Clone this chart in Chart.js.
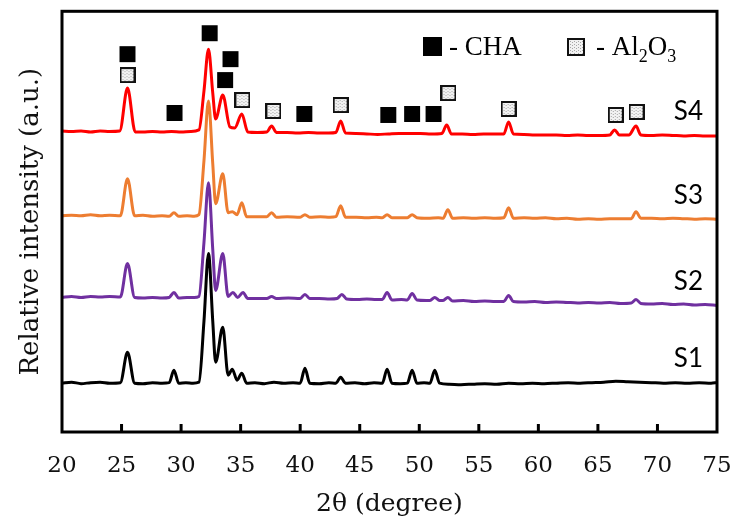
<!DOCTYPE html>
<html>
<head>
<meta charset="utf-8">
<script src="https://cdn.jsdelivr.net/npm/chart.js@4.4.1/dist/chart.umd.min.js"></script>
<style>
  html, body { margin: 0; padding: 0; background: #fff; }
  #wrap { width: 732px; height: 527px; }
</style>
</head>
<body>
<div id="wrap"><canvas id="xrd"></canvas></div>
<script>
// x axis (2 theta) tick labels
var xTicks = [20, 25, 30, 35, 40, 45, 50, 55, 60, 65, 70, 75];

var sampleNames = ['S1', 'S2', 'S3', 'S4'];
var sampleColors = ['#000000', '#7030a0', '#ed7d31', '#ff0000'];
// vertical shift of each pattern (a.u.)
var sampleOffsets = [49, 135, 217, 302];

// [2theta, intensity]
var s1 = [[20,0],[20.8,1],[21.6,-0.5],[22.4,0.5],[23.2,1],[24,0],[24.9,0.5],[25.5,31],[26.1,0],[26.8,-0.5],[27.6,0.5],[28.4,0],[29,0.5],[29.4,13],[29.8,0],[30.4,0.5],[31,0],[31.5,1],[31.92,62],[32.3,130],[32.66,62],[32.9,21],[33.5,56],[33.95,8],[34.3,14],[34.7,3],[35.1,10],[35.5,0],[36.2,0.5],[37,-0.5],[37.8,1],[38.6,0],[39.4,0.5],[40,0],[40.4,15],[40.8,0],[41.6,-0.5],[42.4,0.5],[43,0],[43.4,6],[43.8,0],[44.6,0.5],[45.4,-0.5],[46.2,0.5],[46.9,0],[47.3,14],[47.7,0],[48.4,-0.5],[49,0],[49.4,13],[49.8,0],[50.4,0.5],[50.9,0],[51.3,13],[51.7,0],[52.5,-1],[53.5,-1.5],[54.5,-1],[55.5,-0.5],[56.5,-1],[57.5,0],[58.5,-0.5],[59.5,0],[60.5,-0.5],[61.5,0],[62.5,0.5],[63.5,0],[64.5,0.5],[65.5,1],[66.5,2],[67.5,1.5],[68.5,1],[69.5,0.5],[70.5,0],[71.5,0.5],[72.5,0],[73.5,0.5],[74.5,0],[75,0.5]];
var s2 = [[20,0],[20.8,1],[21.6,0],[22.4,1],[23.2,0.5],[24,1],[24.9,0.5],[25.5,34],[26.1,0],[26.8,-0.5],[27.6,0],[28.4,-0.5],[29,0],[29.4,5],[29.8,-0.5],[30.5,0],[31.1,0],[31.5,1],[31.92,55],[32.3,115],[32.66,48],[32.9,7],[33.5,44],[33.95,1],[34.35,5],[34.75,0],[35.2,5],[35.6,-1],[36.5,-1],[37.2,-1],[37.6,1],[38,-1],[39,-0.5],[40,-1],[40.4,3],[40.8,-1],[41.6,-1],[42.5,-1.5],[43.1,-1],[43.5,3],[43.9,-1.5],[44.8,-2],[45.6,-1.5],[46.4,-2],[46.9,-2],[47.3,5],[47.7,-2.5],[48.5,-2],[49,-2.5],[49.4,4],[49.8,-2.5],[50.6,-3],[50.9,-3],[51.3,0],[51.7,-3],[52,-3],[52.4,0],[52.8,-3.5],[53.7,-3],[54.6,-4],[55.5,-3.5],[56.4,-4],[57.1,-4],[57.5,2],[57.9,-4],[58.8,-4.5],[59.7,-4],[60.6,-5],[61.5,-4.5],[62.4,-5],[63.3,-5.5],[64.2,-5],[65.1,-5.5],[66,-5],[66.9,-6],[67.8,-5.5],[68.2,-2],[68.6,-6],[69.5,-6.5],[70.4,-6],[71.3,-7],[72.2,-6.5],[73.1,-7.5],[74,-7],[75,-8]];
var s3 = [[20,0],[20.8,0.5],[21.6,0],[22.4,1],[23.2,0],[24,0.5],[24.9,0],[25.5,37],[26.1,0],[26.8,0.5],[27.6,-0.5],[28.4,0],[29,-0.5],[29.4,3],[29.8,-0.5],[30.5,0],[31.1,-0.5],[31.5,1],[31.92,55],[32.3,115],[32.66,52],[32.9,12],[33.5,42],[33.95,3],[34.3,4],[34.7,1],[35.1,13],[35.5,-1],[36.3,-1],[37.2,-1],[37.6,3],[38,-1.5],[38.9,-1],[40,-1.5],[40.4,1],[40.8,-1.5],[41.7,-1],[42.5,-1.5],[43,-1],[43.4,10],[43.8,-1.5],[44.7,-1.5],[45.6,-2],[46.4,-1.5],[46.9,-2],[47.3,1],[47.7,-2],[48.5,-2],[49,-2],[49.4,1],[49.8,-2],[50.7,-2.5],[51.6,-2],[52,-2.5],[52.4,6],[52.8,-2.5],[53.7,-2],[54.6,-2.5],[55.5,-2],[56.4,-2.5],[57.1,-2],[57.5,8],[57.9,-2.5],[58.8,-2],[59.7,-2.5],[60.6,-2],[61.5,-3],[62.4,-2.5],[63.3,-3.5],[64.2,-3],[65.1,-3.5],[66,-3],[66.9,-3],[67.8,-3],[68.2,4],[68.6,-2.5],[69.5,-2.5],[70.4,-3],[71.3,-2.5],[72.2,-3],[73.1,-3.5],[74,-3],[75,-3.5]];
var s4 = [[20,0],[20.8,-0.5],[21.6,0],[22.4,-1],[23.2,0],[24,-0.5],[24.85,0],[25.5,43],[26.15,-1],[26.8,-1],[27.6,-0.5],[28.4,-1],[29.2,-0.5],[30,-1],[30.8,-0.5],[31.5,1],[31.92,40],[32.3,82],[32.66,38],[32.9,12],[33.5,36],[34.1,4],[34.5,3],[35.1,17],[35.6,-1],[36.4,-1.5],[37.2,-1],[37.6,5],[38,-1.5],[38.9,-1.5],[39.8,-2],[40.7,-1.5],[41.6,-2],[42.4,-2],[43,-1.5],[43.4,10],[43.8,-2],[44.7,-2.5],[45.6,-3],[46.5,-3.5],[47.4,-3],[48.3,-2.5],[49.2,-2.5],[50.1,-2.5],[51,-3],[51.9,-2.5],[52.3,6],[52.7,-3],[53.6,-3],[54.5,-3.5],[55.4,-3],[56.3,-3],[57.1,-3],[57.5,9],[57.9,-3],[58.8,-3.5],[59.7,-4],[60.6,-4],[61.5,-4],[62.4,-4.5],[63.3,-4],[64.2,-4.5],[65.1,-4.5],[66,-4],[66.4,1],[66.8,-4],[67.6,-4],[68.2,5],[68.6,-4],[69.5,-4.5],[70.4,-4],[71.3,-4.5],[72.2,-5],[73.1,-4.5],[74,-5],[75,-5]];
var patterns = [s1, s2, s3, s4];

// phase markers [2theta, height]
var chaMarks = [[25.5,379],[32.4,400],[34.15,374],[33.7,353],[29.45,320],[40.35,319],[47.4,318],[49.4,319],[51.2,319]];
var aloMarks = [[25.5,358],[35.15,333],[37.75,322],[43.4,328],[52.45,340],[57.5,324],[66.5,318],[68.25,321]];

function dottedBox(size) {
  var c = document.createElement('canvas');
  c.width = size; c.height = size;
  var g = c.getContext('2d');
  g.fillStyle = '#f2f2f2';
  g.fillRect(0, 0, size, size);
  g.fillStyle = '#a8a8a8';
  for (var i = 3; i < size - 2; i += 2) {
    for (var j = 3 + (i % 4 === 1 ? 1 : 0); j < size - 2; j += 3) g.fillRect(i, j, 1, 1);
  }
  g.strokeStyle = '#111';
  g.lineWidth = 2;
  g.strokeRect(1, 1, size - 2, size - 2);
  return c;
}

var datasets = patterns.map(function (p, k) {
  return {
    label: sampleNames[k],
    data: p.map(function (d) { return { x: d[0], y: d[1] + sampleOffsets[k] }; }),
    borderColor: sampleColors[k],
    borderWidth: 3,
    pointRadius: 0,
    cubicInterpolationMode: 'monotone',
    fill: false
  };
});
datasets.unshift({
  label: 'CHA',
  data: chaMarks.map(function (d) { return { x: d[0], y: d[1] }; }),
  showLine: false,
  pointStyle: 'rect',
  pointRadius: 11.3,
  backgroundColor: '#000',
  borderWidth: 0,
  clip: false
}, {
  label: 'Al2O3',
  data: aloMarks.map(function (d) { return { x: d[0], y: d[1] }; }),
  showLine: false,
  pointStyle: dottedBox(16),
  pointRadius: 8,
  clip: false
});

var decor = {
  id: 'decor',
  afterDatasetsDraw: function (chart) {
    var a = chart.chartArea, ctx = chart.ctx;
    var xs = chart.scales.x, ys = chart.scales.y;
    ctx.save();
    ctx.strokeStyle = '#000';
    ctx.lineWidth = 3;
    // inward ticks
    xTicks.slice(1, -1).forEach(function (v) {
      var px = xs.getPixelForValue(v);
      ctx.beginPath();
      ctx.moveTo(px, a.bottom);
      ctx.lineTo(px, a.bottom - 8);
      ctx.stroke();
    });
    ctx.strokeRect(a.left, a.top, a.right - a.left, a.bottom - a.top);

    // sample names near the right end of each pattern
    ctx.fillStyle = '#000';
    ctx.font = '26px Lato';
    ctx.textAlign = 'center';
    ctx.textBaseline = 'middle';
    patterns.forEach(function (p, k) {
      var last = p[p.length - 1][1] + sampleOffsets[k];
      ctx.fillText(sampleNames[k], xs.getPixelForValue(72.6), ys.getPixelForValue(last + 24));
    });

    // legend
    ctx.textAlign = 'left';
    ctx.textBaseline = 'alphabetic';
    ctx.fillRect(423, 37, 19, 19);
    ctx.font = '27px "Liberation Serif"';
    ctx.fillText('- CHA', 449, 55);
    ctx.drawImage(dottedBox(18), 567, 38);
    var x = 596;
    ctx.fillText('- Al', x, 55); x += ctx.measureText('- Al').width;
    ctx.font = '18px "Liberation Serif"';
    ctx.fillText('2', x, 62); x += ctx.measureText('2').width;
    ctx.font = '27px "Liberation Serif"';
    ctx.fillText('O', x, 55); x += ctx.measureText('O').width;
    ctx.font = '18px "Liberation Serif"';
    ctx.fillText('3', x, 62);
    ctx.restore();
  }
};

Chart.defaults.font.family = '"DejaVu Serif"';
Chart.defaults.color = '#111';

new Chart(document.getElementById('xrd'), {
  type: 'line',
  data: { datasets: datasets },
  options: {
    responsive: true,
    maintainAspectRatio: false,
    devicePixelRatio: 1,
    animation: false,
    layout: { padding: { top: 10, right: 15, left: 0, bottom: 0 } },
    plugins: { legend: { display: false }, tooltip: { enabled: false } },
    scales: {
      x: {
        type: 'linear',
        min: 20,
        max: 75,
        afterBuildTicks: function (s) { s.ticks = xTicks.map(function (v) { return { value: v }; }); },
        afterFit: function (s) { s.height = 95; s.paddingLeft = 0; s.paddingRight = 0; },
        grid: { display: false, drawTicks: false },
        border: { display: false },
        ticks: { font: { size: 23 }, padding: 20, maxRotation: 0 },
        title: { display: true, text: '2θ (degree)', font: { size: 25 }, padding: 8 }
      },
      y: {
        min: 0,
        max: 422,
        afterFit: function (s) { s.width = 62; },
        grid: { display: false, drawTicks: false },
        border: { display: false },
        ticks: { display: false },
        title: { display: true, text: 'Relative intensity (a.u.)', font: { size: 26 }, padding: 16 }
      }
    }
  },
  plugins: [decor]
});
</script>
</body>
</html>
